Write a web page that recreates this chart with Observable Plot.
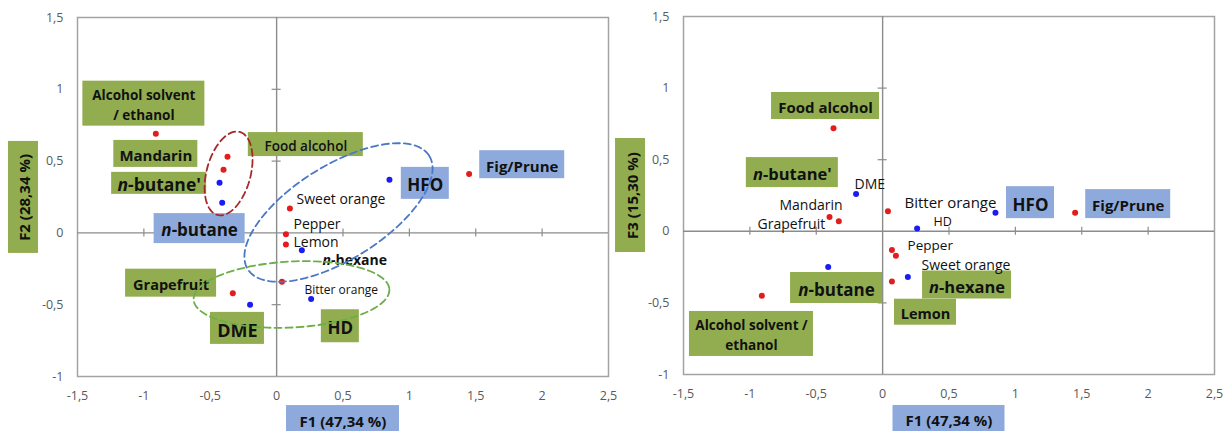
<!DOCTYPE html>
<html>
<head>
<meta charset="utf-8">
<script src="https://cdn.jsdelivr.net/npm/d3@7"></script>
<script src="https://cdn.jsdelivr.net/npm/@observablehq/plot@0.6"></script>
<style>
  body { margin: 0; background: #fff; }
  #charts { position: relative; width: 1224px; height: 431px; }
  #charts > svg { position: absolute; top: 0; }
</style>
</head>
<body>
<div id="charts"></div>
<script>
// PCA scores of the raw materials (red) and of the extraction processes (blue)
const products = ["Alcohol solvent / ethanol", "Food alcohol", "Mandarin", "Sweet orange", "Pepper", "Lemon", "Bitter orange", "Grapefruit", "Fig/Prune"];
const productF1 = [-0.91, -0.37, -0.40, 0.10, 0.07, 0.07, 0.04, -0.33, 1.45];
const productF2 = [0.69, 0.53, 0.44, 0.17, -0.01, -0.08, -0.34, -0.42, 0.41];
const productF3 = [-0.45, 0.72, 0.10, -0.17, -0.13, -0.35, 0.14, 0.07, 0.13];

const processes = ["n-butane'", "n-butane", "HFO", "n-hexane", "HD", "DME"];
const processF1 = [-0.43, -0.41, 0.85, 0.19, 0.26, -0.20];
const processF2 = [0.35, 0.21, 0.37, -0.12, -0.46, -0.50];
const processF3 = [null, -0.25, 0.13, -0.32, 0.02, 0.26];

const xTicks = [-1.5, -1, -0.5, 0, 0.5, 1, 1.5, 2, 2.5];
const yTicks = [-1, -0.5, 0, 0.5, 1, 1.5];
const axisF1 = "F1 (47,34 %)";
const axisF2 = "F2 (28,34 %)";
const axisF3 = "F3 (15,30 %)";

const RED = "#e21d1d", BLUE = "#1c1cf0";
const GREEN_BOX = "#92ad4f", BLUE_BOX = "#8eaadc";
const fmt = d => String(d).replace(".", ",");

// Label boxes: centre in score units, box size in pixels
const labelsF2 = [
  {text: "Alcohol solvent\n/ ethanol", x: -1.00, y: 0.90, fill: GREEN_BOX, w: 122, h: 45, size: 13.5},
  {text: "Mandarin", x: -0.91, y: 0.55, fill: GREEN_BOX, w: 84, h: 27, size: 15},
  {text: "n-butane'", x: -0.885, y: 0.345, fill: GREEN_BOX, w: 95, h: 22, size: 17.5},
  {text: "Food alcohol", x: 0.22, y: 0.615, fill: GREEN_BOX, w: 115, h: 24, size: 13.5, weight: 600},
  {text: "n-butane", x: -0.58, y: 0.03, fill: BLUE_BOX, w: 91, h: 30, size: 17},
  {text: "HFO", x: 1.12, y: 0.345, fill: BLUE_BOX, w: 48, h: 32, size: 17},
  {text: "Fig/Prune", x: 1.85, y: 0.475, fill: BLUE_BOX, w: 85, h: 28, size: 15},
  {text: "Grapefruit", x: -0.795, y: -0.35, fill: GREEN_BOX, w: 91, h: 28, size: 14.5},
  {text: "DME", x: -0.295, y: -0.665, fill: GREEN_BOX, w: 54, h: 32, size: 18},
  {text: "HD", x: 0.48, y: -0.65, fill: GREEN_BOX, w: 38, h: 33, size: 17},
  {text: "Sweet orange", x: 0.15, y: 0.245, size: 14},
  {text: "Pepper", x: 0.127, y: 0.075, size: 14},
  {text: "Lemon", x: 0.127, y: -0.05, size: 14},
  {text: "n-hexane", x: 0.346, y: -0.175, size: 14, weight: 700},
  {text: "Bitter orange", x: 0.21, y: -0.385, size: 12},
  {text: axisF1, x: 0.5, y: -1.30, fill: BLUE_BOX, w: 113, h: 28, size: 15},
  {text: axisF2, x: -1.907, y: 0.247, fill: GREEN_BOX, w: 30, h: 112, size: 15, rotate: -90}
];

const labelsF3 = [
  {text: "Food alcohol", x: -0.43, y: 0.875, fill: GREEN_BOX, w: 108, h: 27, size: 15},
  {text: "n-butane'", x: -0.68, y: 0.41, fill: GREEN_BOX, w: 92, h: 30, size: 16.5},
  {text: "HFO", x: 1.114, y: 0.20, fill: BLUE_BOX, w: 48, h: 32, size: 17},
  {text: "Fig/Prune", x: 1.85, y: 0.19, fill: BLUE_BOX, w: 85, h: 29, size: 15},
  {text: "n-hexane", x: 0.636, y: -0.375, fill: GREEN_BOX, w: 89, h: 28, size: 16.5},
  {text: "Lemon", x: 0.323, y: -0.565, fill: GREEN_BOX, w: 62, h: 26, size: 14.5},
  {text: "n-butane", x: -0.347, y: -0.396, fill: GREEN_BOX, w: 92, h: 31, size: 17},
  {text: "Alcohol solvent /\nethanol", x: -0.988, y: -0.717, fill: GREEN_BOX, w: 124, h: 45, size: 13.5},
  {text: "DME", x: -0.212, y: 0.341, size: 14},
  {text: "Mandarin", x: -0.777, y: 0.194, size: 14},
  {text: "Grapefruit", x: -0.942, y: 0.061, size: 14},
  {text: "Bitter orange", x: 0.165, y: 0.21, size: 15},
  {text: "HD", x: 0.383, y: 0.075, size: 12.5},
  {text: "Pepper", x: 0.188, y: -0.085, size: 13.5},
  {text: "Sweet orange", x: 0.293, y: -0.222, size: 14},
  {text: axisF1, x: 0.5, y: -1.314, fill: BLUE_BOX, w: 112, h: 28, size: 15},
  {text: axisF3, x: -1.899, y: 0.25, fill: GREEN_BOX, w: 30, h: 114, size: 15, rotate: -90}
];

// Dashed groupings: centre in score units, semi-axes in pixels, tilt in degrees
const groupsF2 = [
  {cx: -0.362, cy: 0.414, a: 43, b: 22, angle: -75, stroke: "#a8282a"},
  {cx: 0.466, cy: 0.142, a: 107, b: 47, angle: -32, stroke: "#4a78c6"},
  {cx: 0.112, cy: -0.429, a: 98, b: 33, angle: -3, stroke: "#6cae48"}
];

function ellipsePoints(e, kx, ky) {
  const t = e.angle * Math.PI / 180, pts = [];
  for (let i = 0; i < 120; i++) {
    const u = 2 * Math.PI * i / 120;
    const dx = e.a * Math.cos(u) * Math.cos(t) - e.b * Math.sin(u) * Math.sin(t);
    const dy = e.a * Math.cos(u) * Math.sin(t) + e.b * Math.sin(u) * Math.cos(t);
    pts.push({x: e.cx + dx / kx, y: e.cy - dy / ky});
  }
  return pts;
}

function labelMarks(labels, kx, ky) {
  return labels.map(l => {
    const marks = [];
    if (l.fill) {
      marks.push(Plot.rect([l], {
        x1: d => d.x - d.w / 2 / kx, x2: d => d.x + d.w / 2 / kx,
        y1: d => d.y - d.h / 2 / ky, y2: d => d.y + d.h / 2 / ky,
        fill: l.fill
      }));
    }
    marks.push(Plot.text([l], {
      x: "x", y: "y", text: "text",
      fontSize: l.size,
      fontWeight: l.weight ?? (l.fill ? 700 : 400),
      textAnchor: l.fill ? "middle" : "start",
      rotate: l.rotate ?? 0,
      lineHeight: 1.45,
      fill: "#111"
    }));
    return marks;
  });
}

function scorePlot({second, labels, groups, m}) {
  const width = 612, height = 431;
  const kx = (width - m.left - m.right) / 4;
  const ky = (height - m.top - m.bottom) / 2.5;
  const prod = products.map((name, i) => ({name, x: productF1[i], y: second.products[i]})).filter(d => d.y != null);
  const proc = processes.map((name, i) => ({name, x: processF1[i], y: second.processes[i]})).filter(d => d.y != null);
  const innerX = xTicks.filter(v => v > -1.5 && v < 2.5 && v !== 0);
  const innerY = yTicks.filter(v => v > -1 && v < 1.5 && v !== 0);

  const svg = Plot.plot({
    width, height,
    marginLeft: m.left, marginRight: m.right, marginTop: m.top, marginBottom: m.bottom,
    style: {fontFamily: "Open Sans", fontSize: "12.5px", color: "#595959", background: "transparent", overflow: "visible"},
    x: {domain: [-1.5, 2.5], ticks: xTicks, tickFormat: fmt, tickSize: 0, tickPadding: 15, label: null},
    y: {domain: [-1, 1.5], ticks: yTicks, tickFormat: fmt, tickSize: 0, tickPadding: 14, label: null},
    marks: [
      Plot.frame({stroke: "#a3a3a3", strokeWidth: 1.5}),
      Plot.ruleX([0], {stroke: "#8c8c8c", strokeWidth: 1.4}),
      Plot.ruleY([0], {stroke: "#8c8c8c", strokeWidth: 1.4}),
      Plot.ruleX(innerX, {y1: () => -4 / ky, y2: () => 4 / ky, stroke: "#8c8c8c", strokeWidth: 1.2}),
      Plot.ruleY(innerY, {x1: () => -4.5 / kx, x2: () => 4.5 / kx, stroke: "#8c8c8c", strokeWidth: 1.2}),
      Plot.dot(prod, {x: "x", y: "y", r: 3, fill: RED}),
      Plot.dot(proc, {x: "x", y: "y", r: 3, fill: BLUE}),
      labelMarks(labels, kx, ky),
      groups.map(g => Plot.line(ellipsePoints(g, kx, ky), {
        x: "x", y: "y", curve: "linear-closed",
        stroke: g.stroke, strokeWidth: 1.8, strokeDasharray: "7,4"
      }))
    ]
  });

  // italic "n" in the n-alkane names
  d3.select(svg).selectAll("text").each(function () {
    const t = this.textContent;
    if (/^n-/.test(t) && this.children.length === 0) {
      const s = d3.select(this).text(null);
      s.append("tspan").attr("font-style", "italic").text("n");
      s.append("tspan").text(t.slice(1));
    }
  });
  return svg;
}

const left = scorePlot({
  second: {products: productF2, processes: processF2},
  labels: labelsF2, groups: groupsF2,
  m: {left: 77, right: 4, top: 17, bottom: 55}
});
const right = scorePlot({
  second: {products: productF3, processes: processF3},
  labels: labelsF3, groups: [],
  m: {left: 71, right: 10, top: 16, bottom: 57}
});
left.style.left = "0px";
right.style.left = "612px";
const root = document.getElementById("charts");
root.append(right, left);
</script>
</body>
</html>
